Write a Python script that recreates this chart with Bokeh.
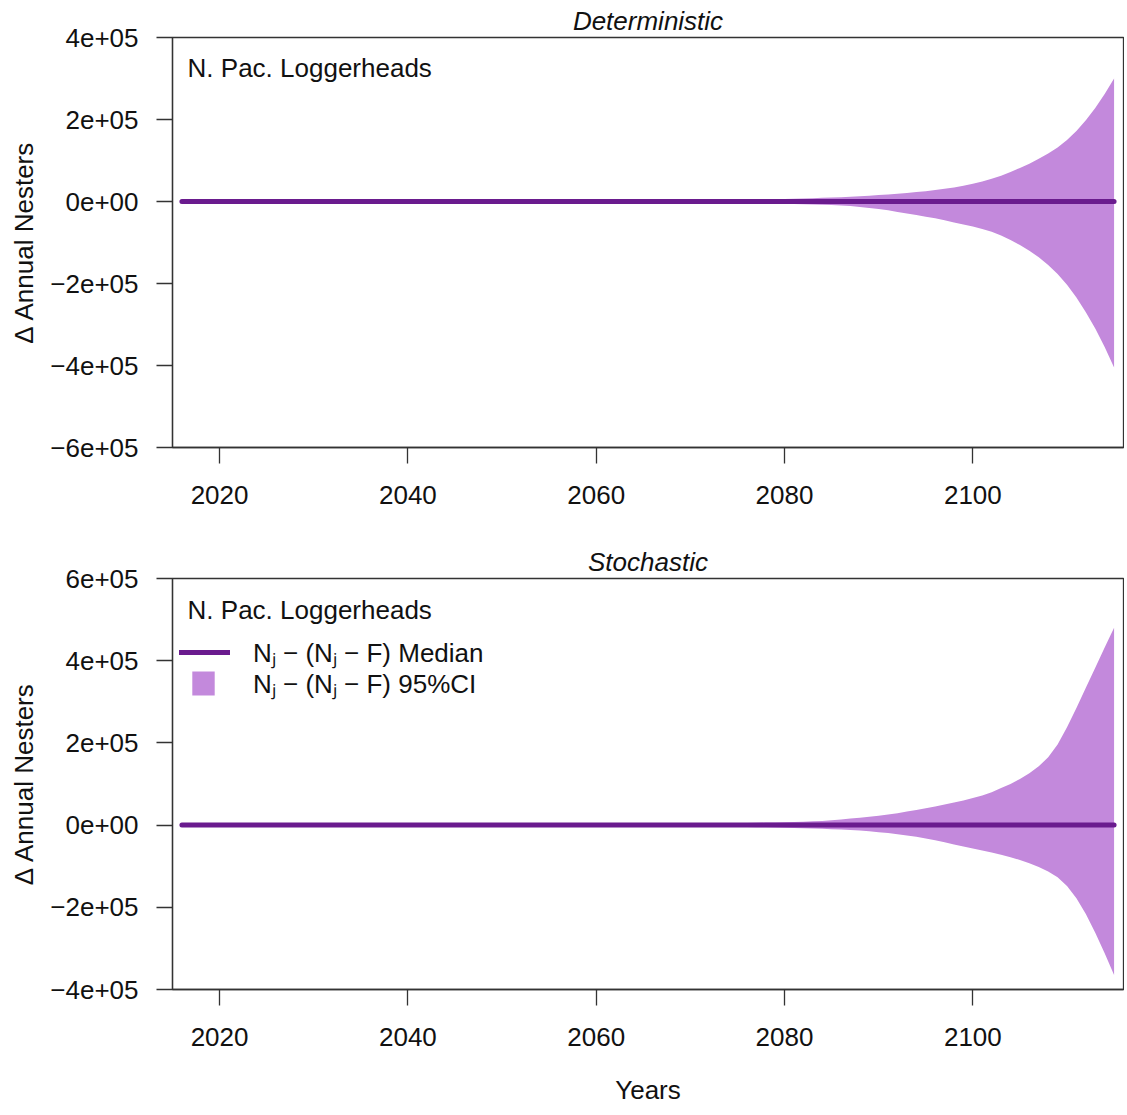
from bokeh.plotting import figure
from bokeh.models import Range1d, FixedTicker, Label, Legend, LegendItem
from bokeh.layouts import column
from bokeh.embed import file_html
from bokeh.resources import INLINE

# ---------------- data ----------------
years = list(range(2016, 2116))

median_det = [
    0, 0, 0, 0, 0, 0, 0, 0, 0, 0,
    0, 0, 0, 0, 0, 0, 0, 0, 0, 0,
    0, 0, 0, 0, 0, 0, 0, 0, 0, 0,
    0, 0, 0, 0, 0, 0, 0, 0, 0, 0,
    0, 0, 0, 0, 0, 0, 0, 0, 0, 0,
    0, 0, 0, 0, 0, 0, 0, 0, 0, 0,
    0, 0, 0, 0, 0, 0, 0, 0, 0, 0,
    0, 0, 0, 0, 0, 0, 0, 0, 0, 0,
    0, 0, 0, 0, 0, 0, 0, 0, 0, 0,
    0, 0, 0, 0, 0, 0, 0, 0, 0, 0,
]
median_sto = [
    0, 0, 0, 0, 0, 0, 0, 0, 0, 0,
    0, 0, 0, 0, 0, 0, 0, 0, 0, 0,
    0, 0, 0, 0, 0, 0, 0, 0, 0, 0,
    0, 0, 0, 0, 0, 0, 0, 0, 0, 0,
    0, 0, 0, 0, 0, 0, 0, 0, 0, 0,
    0, 0, 0, 0, 0, 0, 0, 0, 0, 0,
    0, 0, 0, 0, 0, 0, 0, 0, 0, 0,
    0, 0, 0, 0, 0, 0, 0, 0, 0, 0,
    0, 0, 0, 0, 0, 0, 0, 0, 0, 0,
    0, 0, 0, 0, 0, 0, 0, 0, 0, 0,
]

det_hi = [
    0, 15, 17, 18, 20, 22, 24, 27, 29, 32,
    36, 39, 43, 48, 52, 58, 63, 70, 77, 84,
    93, 102, 112, 123, 136, 149, 164, 181, 199, 219,
    240, 265, 291, 320, 352, 387, 426, 469, 516, 567,
    624, 686, 755, 830, 913, 1005, 1105, 1216, 1337, 1471,
    1618, 1780, 1958, 2154, 2369, 2606, 2867, 3153, 3469, 3816,
    4197, 4617, 5079, 5587, 6145, 6760, 7436, 8179, 8997, 9897,
    10500, 11700, 13000, 14300, 15700, 17200, 19000, 21000, 23000, 25000,
    28000, 31000, 34000, 38500, 43500, 49000, 55500, 63000, 72000, 82000,
    92000, 104000, 117000, 132000, 150000, 172000, 198000, 228000, 262000, 300000,
]
det_lo = [
    0, -14, -16, -17, -19, -21, -23, -26, -28, -31,
    -34, -37, -41, -46, -50, -55, -60, -66, -73, -80,
    -88, -97, -106, -117, -129, -142, -156, -172, -189, -208,
    -228, -252, -277, -304, -334, -368, -405, -445, -490, -539,
    -593, -652, -717, -789, -867, -955, -1050, -1155, -1270, -1397,
    -1537, -1691, -1860, -2046, -2251, -2476, -2724, -2995, -3296, -3625,
    -3900, -4300, -4700, -5100, -5600, -6100, -6700, -7400, -8100, -8800,
    -9500, -11200, -13300, -15600, -18200, -21500, -25500, -29000, -33000, -37000,
    -41000, -46000, -51000, -56000, -61000, -67000, -74000, -83000, -94000, -106000,
    -120000, -136000, -155000, -177000, -203000, -234000, -270000, -310000, -355000, -405000,
]
sto_hi = [
    0, 18, 21, 23, 26, 28, 31, 35, 38, 42,
    46, 51, 56, 62, 68, 75, 82, 90, 99, 109,
    120, 132, 145, 160, 176, 193, 213, 234, 257, 283,
    311, 342, 377, 414, 456, 501, 551, 607, 667, 734,
    808, 888, 977, 1075, 1182, 1301, 1431, 1574, 1731, 1904,
    2095, 2304, 2535, 2788, 3067, 3374, 3711, 4082, 4490, 4939,
    5300, 5700, 6100, 6600, 7100, 7700, 8400, 9200, 10200, 11800,
    13700, 15800, 18000, 20200, 23000, 26000, 29000, 33000, 37000, 41000,
    45000, 50000, 55000, 60000, 66000, 72000, 80000, 90000, 100000, 112000,
    126000, 143000, 165000, 196000, 238000, 285000, 334000, 383000, 432000, 480000,
]
sto_lo = [
    0, -16, -18, -20, -22, -24, -27, -30, -33, -36,
    -40, -44, -48, -53, -58, -64, -70, -77, -85, -94,
    -103, -113, -125, -137, -151, -166, -183, -201, -221, -243,
    -268, -294, -324, -356, -392, -431, -474, -521, -574, -631,
    -694, -763, -840, -924, -1016, -1118, -1229, -1352, -1488, -1636,
    -1800, -1980, -2178, -2396, -2635, -2899, -3189, -3508, -3859, -4244,
    -4600, -5000, -5400, -5900, -6400, -7000, -7600, -8300, -9000, -9800,
    -10600, -11800, -13400, -15200, -17200, -19500, -22000, -25000, -28500, -32500,
    -37000, -42000, -47000, -52000, -57000, -61500, -66500, -72000, -78000, -85000,
    -93000, -102000, -113000, -127000, -148000, -178000, -216000, -262000, -312000, -365000,
]

x_ticks = [2020, 2040, 2060, 2080, 2100]
det_yticks = [-600000, -400000, -200000, 0, 200000, 400000]
det_ylabels = ["\u22126e+05", "\u22124e+05", "\u22122e+05", "0e+00", "2e+05", "4e+05"]
sto_yticks = [-400000, -200000, 0, 200000, 400000, 600000]
sto_ylabels = ["\u22124e+05", "\u22122e+05", "0e+00", "2e+05", "4e+05", "6e+05"]

panel_titles = ["Deterministic", "Stochastic"]
pop_name = "N. Pac. Loggerheads"
x_title = "Years"
y_title = "\u0394 Annual Nesters"
legend_median = "N\u2C7C \u2212 (N\u2C7C \u2212 F) Median"
legend_ci = "N\u2C7C \u2212 (N\u2C7C \u2212 F) 95%CI"

# ---------------- style ----------------
FONT = "Liberation Sans"
TXT = "#111111"
AX = "#333333"
BAND = "#C389DC"
MED = "#6A1B8E"


def make_panel(title, lo, hi, med, yr, yticks, ylabels, height, top, bottom, xlabel):
    p = figure(width=1124, height=height, output_backend="svg", toolbar_location=None,
               x_range=Range1d(2015, 2116), y_range=Range1d(*yr),
               min_border_left=172, min_border_right=1,
               min_border_top=top, min_border_bottom=bottom)
    p.xgrid.visible = False
    p.ygrid.visible = False
    p.outline_line_color = AX
    p.outline_line_width = 1.3
    p.background_fill_color = "white"
    p.border_fill_color = "white"

    p.title.text = title
    p.title.align = "center"
    p.title.text_font = FONT
    p.title.text_font_style = "italic"
    p.title.text_font_size = "26px"
    p.title.text_color = TXT
    p.title.standoff = 4

    for ax in (p.xaxis[0], p.yaxis[0]):
        ax.axis_line_color = AX
        ax.axis_line_width = 1.3
        ax.major_tick_line_color = AX
        ax.major_tick_line_width = 1.3
        ax.major_tick_in = 0
        ax.major_tick_out = 16
        ax.minor_tick_line_color = None
        ax.major_label_text_font = FONT
        ax.major_label_text_font_size = "26px"
        ax.major_label_text_color = TXT
        ax.axis_label_text_font = FONT
        ax.axis_label_text_font_size = "26px"
        ax.axis_label_text_font_style = "normal"
        ax.axis_label_text_color = TXT

    p.xaxis.ticker = FixedTicker(ticks=x_ticks)
    p.xaxis.major_label_standoff = 22
    if xlabel:
        p.xaxis.axis_label = xlabel
        p.xaxis.axis_label_standoff = 26

    p.yaxis.ticker = FixedTicker(ticks=yticks)
    p.yaxis.major_label_overrides = {t: l for t, l in zip(yticks, ylabels)}
    p.yaxis.major_label_standoff = 18
    p.yaxis.axis_label = y_title
    p.yaxis.axis_label_standoff = 8

    band = p.varea(x=years, y1=lo, y2=hi, fill_color=BAND, fill_alpha=1.0)
    line = p.line(x=years, y=med, line_color=MED, line_width=5, line_cap="round")
    return p, band, line


p1, b1, l1 = make_panel(panel_titles[0], det_lo, det_hi, median_det,
                        (-600000, 400000), det_yticks, det_ylabels,
                        540, 37, 93, None)
p1.add_layout(Label(x=2016.6, y=361000, text=pop_name, text_font=FONT,
                    text_font_size="26px", text_color=TXT, text_baseline="top"))

p2, b2, l2 = make_panel(panel_titles[1], sto_lo, sto_hi, median_sto,
                        (-400000, 600000), sto_yticks, sto_ylabels,
                        574, 38, 125, x_title)
p2.add_layout(Label(x=2016.6, y=561000, text=pop_name, text_font=FONT,
                    text_font_size="26px", text_color=TXT, text_baseline="top"))

leg1 = Legend(items=[LegendItem(label=legend_median, renderers=[l2])],
              location=(7, 319), glyph_width=51, glyph_height=30, label_height=30,
              label_standoff=23, padding=0, margin=0, spacing=0,
              border_line_color=None, background_fill_alpha=0,
              label_text_font=FONT, label_text_font_size="26px", label_text_color=TXT)
leg2 = Legend(items=[LegendItem(label=legend_ci, renderers=[b2])],
              location=(17, 288), glyph_width=28, glyph_height=30, label_height=30,
              label_standoff=36, padding=0, margin=0, spacing=0,
              border_line_color=None, background_fill_alpha=0,
              label_text_font=FONT, label_text_font_size="26px", label_text_color=TXT)
p2.add_layout(leg1)
p2.add_layout(leg2)

layout = column(p1, p2, spacing=0)
open("out.html", "w").write(file_html(layout, INLINE))
